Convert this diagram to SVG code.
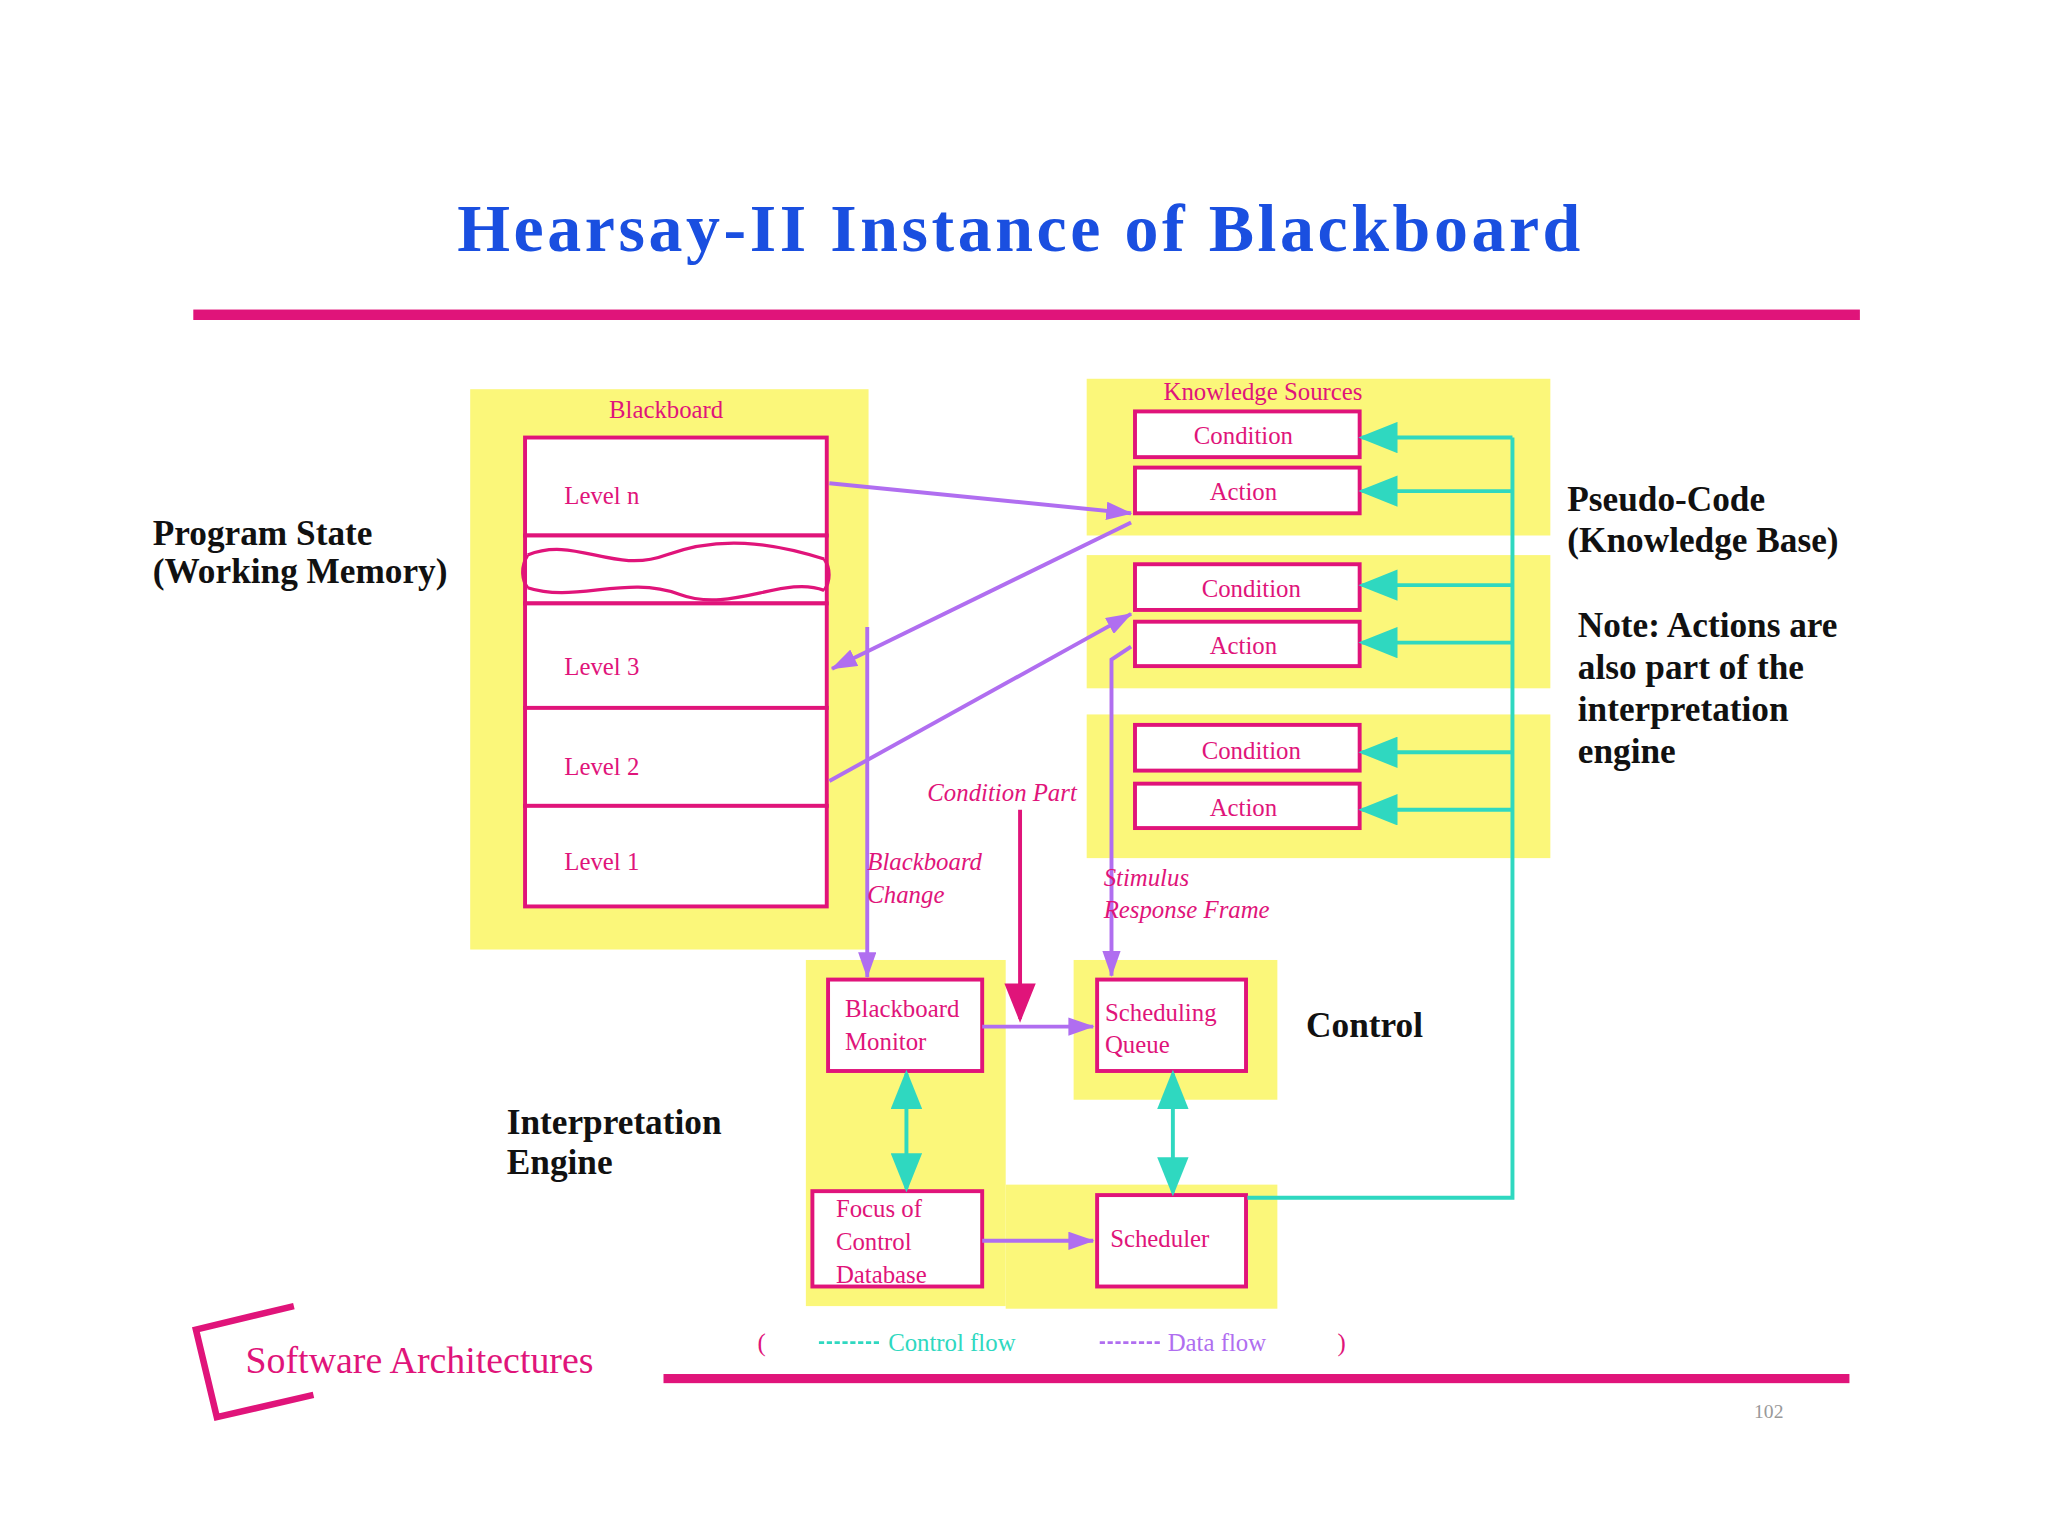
<svg xmlns="http://www.w3.org/2000/svg" width="2048" height="1536" viewBox="0 0 2048 1536">
<style>
.y{fill:#fbf77a}
.b{fill:#fff;stroke:#e0147a;stroke-width:3}
.pt{font-family:"Liberation Serif",serif;fill:#e0147a;font-size:19px}
.it{font-family:"Liberation Serif",serif;fill:#e0147a;font-size:19px;font-style:italic}
.bk{font-family:"Liberation Serif",serif;font-weight:bold;font-size:27px;fill:#111}
.pu{stroke:#b06ef0;stroke-width:3;fill:none}
.cy{stroke:#2fd8c0;stroke-width:3;fill:none}
</style>
<defs>
<marker id="ap" markerWidth="20" markerHeight="14" refX="19" refY="7" orient="auto" markerUnits="userSpaceOnUse" viewBox="0 0 20 14"><path d="M0,0L20,7L0,14z" fill="#b06ef0"/></marker>
<marker id="ac" markerWidth="10" markerHeight="8" refX="9" refY="4" orient="auto-start-reverse" viewBox="0 0 10 8"><path d="M0,0L10,4L0,8z" fill="#2fd8c0"/></marker>
<marker id="ar" markerWidth="10" markerHeight="8" refX="9" refY="4" orient="auto" viewBox="0 0 10 8"><path d="M0,0L10,4L0,8z" fill="#e0147a"/></marker>
</defs>
<rect width="2048" height="1536" fill="#fff"/>
<g transform="scale(1.3061)">
<text x="780" y="192" text-anchor="middle" font-family="Liberation Serif,serif" font-weight="bold" font-size="52" fill="#1a4fe0" textLength="860">Hearsay-II Instance of Blackboard</text>
<rect x="148" y="237" width="1276" height="8" fill="#e0147a"/>
<g id="areas">
<rect class="y" x="360" y="298" width="305" height="429"/>
<rect class="y" x="832" y="290" width="355" height="120"/>
<rect class="y" x="832" y="425" width="355" height="102"/>
<rect class="y" x="832" y="547" width="355" height="110"/>
<rect class="y" x="617" y="735" width="153" height="265"/>
<rect class="y" x="822" y="735" width="156" height="107"/>
<rect class="y" x="770" y="907" width="208" height="95"/>
</g>
<g id="blackboard">
<text class="pt" x="510" y="320" text-anchor="middle">Blackboard</text>
<rect class="b" x="402" y="335" width="231" height="75"/><text class="pt" x="432" y="386" font-size="16">Level n</text>
<rect class="b" x="402" y="410" width="231" height="52"/>
<path d="M404,425 C440,410 470,440 510,425 S590,415 631,428 M404,450 C440,462 480,440 520,455 S600,440 631,452 M404,425 C398,435 400,445 404,450 M631,428 C636,435 636,445 631,452" stroke="#e0147a" stroke-width="2.5" fill="none"/>
<rect class="b" x="402" y="462" width="231" height="80"/><text class="pt" x="432" y="517" font-size="16">Level 3</text>
<rect class="b" x="402" y="542" width="231" height="75"/><text class="pt" x="432" y="593" font-size="16">Level 2</text>
<rect class="b" x="402" y="617" width="231" height="77"/><text class="pt" x="432" y="666" font-size="16">Level 1</text>
</g>
<g id="ks">
<text class="pt" x="967" y="306" text-anchor="middle">Knowledge Sources</text>
<rect class="b" x="869" y="315" width="172" height="35"/><text class="pt" x="952" y="340" text-anchor="middle">Condition</text>
<rect class="b" x="869" y="358" width="172" height="35"/><text class="pt" x="952" y="383" text-anchor="middle">Action</text>
<rect class="b" x="869" y="432" width="172" height="35"/><text class="pt" x="958" y="457" text-anchor="middle">Condition</text>
<rect class="b" x="869" y="476" width="172" height="34"/><text class="pt" x="952" y="501" text-anchor="middle">Action</text>
<rect class="b" x="869" y="555" width="172" height="35"/><text class="pt" x="958" y="581" text-anchor="middle">Condition</text>
<rect class="b" x="869" y="600" width="172" height="34"/><text class="pt" x="952" y="625" text-anchor="middle">Action</text>
</g>
<g id="engine">
<rect class="b" x="634" y="750" width="118" height="70"/><text class="pt" x="647" y="779">Blackboard</text><text class="pt" x="647" y="804">Monitor</text>
<rect class="b" x="840" y="750" width="114" height="70"/><text class="pt" x="846" y="782">Scheduling</text><text class="pt" x="846" y="806">Queue</text>
<rect class="b" x="622" y="912" width="130" height="73"/><text class="pt" x="640" y="932">Focus of</text><text class="pt" x="640" y="957">Control</text><text class="pt" x="640" y="982">Database</text>
<rect class="b" x="840" y="915" width="114" height="70"/><text class="pt" x="850" y="955">Scheduler</text>
</g>
<g id="connectors">
<path class="cy" d="M955,917H1158V335"/>
<g marker-end="url(#ac)"><path class="cy" d="M1158,335H1043"/><path class="cy" d="M1158,376H1043"/><path class="cy" d="M1158,448H1043"/><path class="cy" d="M1158,492H1043"/><path class="cy" d="M1158,576H1043"/><path class="cy" d="M1158,620H1043"/></g>
<path class="cy" d="M694,822V910" marker-start="url(#ac)" marker-end="url(#ac)"/>
<path class="cy" d="M898,822V913" marker-start="url(#ac)" marker-end="url(#ac)"/>
<g marker-end="url(#ap)">
<path class="pu" d="M635,370L866,393"/>
<path class="pu" d="M866,400L637,512"/>
<path class="pu" d="M635,598L866,470"/>
<path class="pu" d="M664,480V748"/>
<path class="pu" d="M866,495L851,505V747"/>
<path class="pu" d="M752,786H837"/>
<path class="pu" d="M752,950H837"/>
</g>
<path d="M781,620V780" stroke="#e0147a" stroke-width="3" marker-end="url(#ar)"/>
</g>
<g id="labels">
<text class="it" x="710" y="613">Condition Part</text>
<text class="it" x="664" y="666">Blackboard</text><text class="it" x="664" y="691">Change</text>
<text class="it" x="845" y="678">Stimulus</text><text class="it" x="845" y="703">Response Frame</text>
<text class="bk" x="117" y="417">Program State</text><text class="bk" x="117" y="446">(Working Memory)</text>
<text class="bk" x="1200" y="391">Pseudo-Code</text><text class="bk" x="1200" y="423">(Knowledge Base)</text>
<text class="bk" x="1208" y="488">Note: Actions are</text><text class="bk" x="1208" y="520">also part of the</text><text class="bk" x="1208" y="552">interpretation</text><text class="bk" x="1208" y="584">engine</text>
<text class="bk" x="1000" y="794">Control</text>
<text class="bk" x="388" y="868">Interpretation</text><text class="bk" x="388" y="899">Engine</text>
<text x="580" y="1034" font-family="Liberation Serif,serif" font-size="19" fill="#e0147a">(</text>
<path d="M627,1028H673" stroke="#2fd8c0" stroke-width="2" stroke-dasharray="4,2"/>
<text x="680" y="1034" font-family="Liberation Serif,serif" font-size="19" fill="#2fd8c0">Control flow</text>
<path d="M842,1028H888" stroke="#b06ef0" stroke-width="2" stroke-dasharray="4,2"/>
<text x="894" y="1034" font-family="Liberation Serif,serif" font-size="19" fill="#b06ef0">Data flow</text>
<text x="1024" y="1034" font-family="Liberation Serif,serif" font-size="19" fill="#e0147a">)</text>
</g>
<rect x="508" y="1052" width="908" height="7" fill="#e0147a"/>
<path d="M225,1000L150,1018L166,1085L240,1068" stroke="#e0147a" stroke-width="5" fill="none"/>
<text x="188" y="1051" font-family="Liberation Serif,serif" font-size="29" fill="#e0147a">Software Architectures</text>
<text x="1343" y="1086" font-family="Liberation Serif,serif" font-size="15" fill="#999">102</text>
</g>
</svg>
